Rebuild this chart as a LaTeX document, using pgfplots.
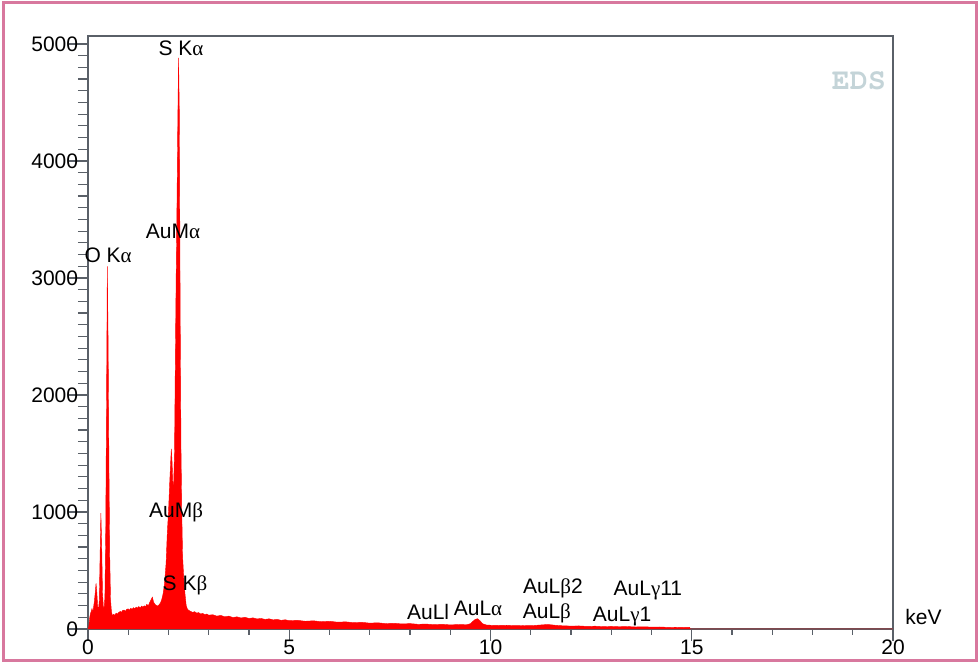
\documentclass[border=0pt]{standalone}
\usepackage{fontspec}
\setmainfont{Liberation Sans}
\newfontfamily\grk{Liberation Serif}
\newfontfamily\edsfont{TeX Gyre Cursor}
\usepackage{pgfplots}
\pgfplotsset{compat=1.18}
\definecolor{frame}{RGB}{216,120,158}
\definecolor{axgray}{RGB}{90,96,104}
\definecolor{edscol}{RGB}{196,212,216}
\newcommand{\gra}{{\grk α}}
\newcommand{\grb}{{\grk β}}
\newcommand{\grg}{{\grk γ}}
\begin{document}
\begin{tikzpicture}
\begin{axis}[name=ax,
  scale only axis, width=402.5pt, height=296.5pt,
  xmin=0, xmax=20, ymin=0, ymax=5068,
  xtick={0,5,10,15,20}, minor x tick num=4,
  ytick={0,1000,2000,3000,4000,5000}, minor y tick num=9,
  tick align=outside, xtick pos=bottom, ytick pos=left,
  xtick style={/pgfplots/major tick length=6pt, /pgfplots/minor tick length=3pt, axgray, line width=0.6pt},
  ytick style={/pgfplots/major tick length=9.5pt, /pgfplots/minor tick length=5pt, axgray, line width=0.6pt},
  axis line style={axgray, line width=0.6pt},
  /pgf/number format/assume math mode=true,
  scaled ticks=false,
  yticklabel style={/pgf/number format/1000 sep={}, font=\fontsize{10.5}{12}\selectfont, inner xsep=0.5pt},
  xticklabel style={font=\fontsize{10.5}{12}\selectfont, inner ysep=1pt},
  clip=false,
]
\addplot[draw=red, fill=red, line width=0.2pt] coordinates {
(0.00,0) (0.02,20) (0.04,90) (0.06,130) (0.08,150) (0.10,175) (0.12,140) (0.14,190)
(0.16,240) (0.18,310) (0.20,390) (0.22,310) (0.24,190) (0.26,165) (0.28,240)
(0.30,620) (0.32,990) (0.34,720) (0.36,310) (0.38,195) (0.40,175) (0.42,270)
(0.44,820) (0.46,1900) (0.48,3100) (0.50,2450) (0.52,1400) (0.54,620) (0.56,250)
(0.58,160) (0.60,115) (0.63,125) (0.66,118) (0.70,135) (0.73,128) (0.76,140)
(0.80,150) (0.83,142) (0.86,158) (0.90,162) (0.93,150) (0.96,168) (1.00,172)
(1.03,160) (1.06,176) (1.10,170) (1.13,182) (1.16,174) (1.20,186) (1.23,178)
(1.26,192) (1.30,180) (1.33,196) (1.36,188) (1.40,198) (1.43,190) (1.46,210)
(1.50,200) (1.53,225) (1.56,245) (1.60,272) (1.63,230) (1.66,212) (1.70,200)
(1.73,196) (1.76,205) (1.80,222) (1.83,250) (1.86,290) (1.90,380) (1.94,560)
(1.97,820) (2.00,1000) (2.03,1250) (2.05,1400) (2.07,1540) (2.09,1420) (2.11,1220)
(2.13,1260) (2.15,1520) (2.17,2300) (2.19,3000) (2.21,3600) (2.23,4300) (2.25,4880)
(2.27,4400) (2.29,2700) (2.31,1550) (2.33,1000) (2.35,620) (2.38,430) (2.41,300)
(2.44,200) (2.47,170) (2.50,160) (2.55,150) (2.60,142) (2.65,148) (2.70,136)
(2.75,140) (2.80,128) (2.85,134) (2.90,122) (2.95,128) (3.00,118) (3.10,122)
(3.20,110) (3.30,116) (3.40,104) (3.50,110) (3.60,98) (3.70,104) (3.80,94)
(3.90,100) (4.00,90) (4.10,95) (4.20,86) (4.30,90) (4.40,82) (4.50,87) (4.60,78)
(4.70,82) (4.80,74) (4.90,79) (5.00,71) (5.20,74) (5.40,66) (5.60,70) (5.80,62)
(6.00,66) (6.20,58) (6.40,61) (6.60,54) (6.80,57) (7.00,50) (7.20,53) (7.40,46)
(7.60,49) (7.80,43) (8.00,46) (8.20,40) (8.40,42) (8.60,37) (8.80,40) (9.00,35)
(9.20,38) (9.40,36) (9.50,45) (9.55,62) (9.62,82) (9.68,88) (9.74,70) (9.80,45)
(9.90,34) (10.00,32) (10.20,30) (10.40,32) (10.60,28) (10.80,30) (11.00,28)
(11.20,33) (11.40,38) (11.50,36) (11.60,32) (11.80,27) (12.00,25) (12.20,26)
(12.40,22) (12.60,24) (12.80,20) (13.00,22) (13.20,19) (13.40,21) (13.60,17)
(13.80,19) (14.00,16) (14.20,17) (14.40,14) (14.60,15) (14.80,13) (14.95,14)
(14.96,0) (20,0)
} \closedcycle;
\begin{scope}[every node/.style={font=\fontsize{10.5}{12}\selectfont, inner sep=0pt}]
\node at (axis cs:2.31,4966) {S K\gra};
\node at (axis cs:2.11,3402) {AuM\gra};
\node at (axis cs:0.50,3197) {O K\gra};
\node at (axis cs:2.19,1000) {AuM\grb};
\node at (axis cs:2.41,376) {S K\grb};
\node at (axis cs:8.45,145) {AuLl};
\node at (axis cs:9.69,180) {AuL\gra};
\node at (axis cs:11.55,350) {AuL\grb2};
\node at (axis cs:11.40,137) {AuL\grb};
\node at (axis cs:13.91,325) {AuL\grg11};
\node at (axis cs:13.27,103) {AuL\grg1};
\node[anchor=south west, xshift=6pt, yshift=2pt] at (rel axis cs:1,0) {keV};
\end{scope}
\node[font=\edsfont\bfseries\fontsize{15}{15}\selectfont, text=edscol, inner sep=0pt] at (axis cs:19.15,4689) {EDS};
\end{axis}
\draw[frame, line width=1.5pt] ([xshift=-42.25pt,yshift=-15.75pt]ax.south west) rectangle ([xshift=41.75pt,yshift=16.5pt]ax.north east);
\pgfresetboundingbox
\path ([xshift=-44pt,yshift=-18pt]ax.south west) rectangle ([xshift=43.5pt,yshift=18pt]ax.north east);
\end{tikzpicture}
\end{document}
